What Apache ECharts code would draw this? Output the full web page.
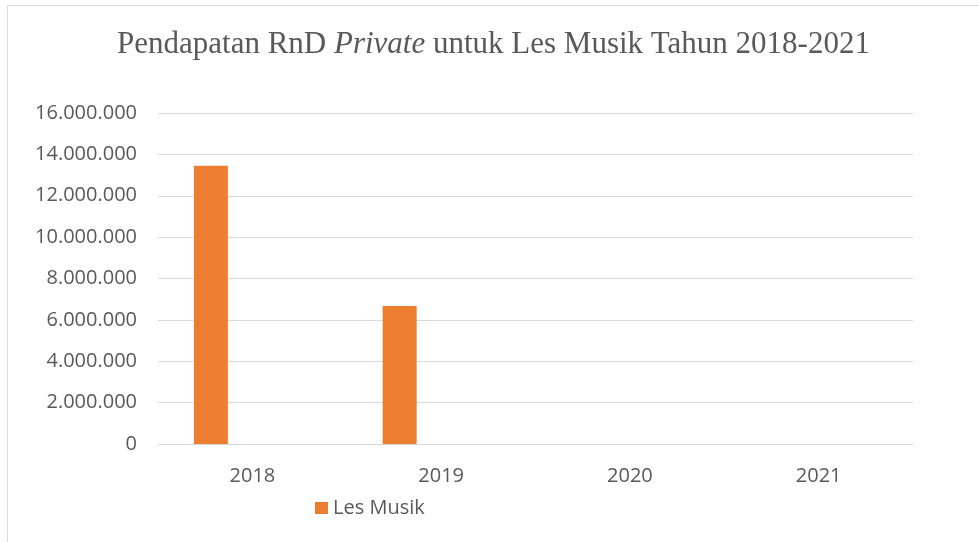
<!DOCTYPE html>
<html>
<head>
<meta charset="utf-8">
<script src="https://cdn.jsdelivr.net/npm/echarts@6/dist/echarts.min.js"></script>
<style>
html,body{margin:0;padding:0;background:#fff;}
#chart{width:979px;height:542px;}
</style>
</head>
<body>
<div id="chart"></div>
<script>
// Data
var categories = ['2018', '2019', '2020', '2021'];
var lesMusik = [13450000, 6675000, 0, 0];
// Empty placeholder series (present in the source workbook but without values)
var emptySeriesA = [null, null, null, null];
var emptySeriesB = [null, null, null, null];
var yTicks = [0, 2000000, 4000000, 6000000, 8000000, 10000000, 12000000, 14000000, 16000000];

function fmt(v) {
  return String(v).replace(/\B(?=(\d{3})+(?!\d))/g, '.');
}

var chart = echarts.init(document.getElementById('chart'));
var sans = '"Open Sans", "Liberation Sans", sans-serif';
var serif = '"Liberation Serif", "Times New Roman", serif';
chart.setOption({
  animation: false,
  backgroundColor: '#ffffff',
  graphic: [{
    type: 'rect',
    shape: { x: 7.5, y: 5.5, width: 1000, height: 600 },
    style: { fill: 'none', stroke: '#d9d9d9', lineWidth: 1 },
    silent: true
  }],
  title: {
    left: 112,
    top: 24,
    text: '{n|Pendapatan RnD }{i|Private}{n| untuk Les Musik Tahun 2018-2021}',
    textStyle: {
      fontWeight: 'normal',
      rich: {
        n: { fontFamily: serif, fontSize: 31, fontWeight: 'normal', color: '#595959' },
        i: { fontFamily: serif, fontSize: 31, fontWeight: 'normal', fontStyle: 'italic', color: '#595959' }
      }
    }
  },
  legend: {
    data: ['Les Musik'],
    left: 310,
    top: 493,
    icon: 'rect',
    itemWidth: 13,
    itemHeight: 12,
    itemGap: 5,
    textStyle: { fontFamily: sans, fontSize: 20, color: '#595959' }
  },
  grid: { left: 158, right: 66, top: 113, bottom: 98, containLabel: false },
  xAxis: {
    type: 'category',
    data: categories,
    axisLine: { show: true, lineStyle: { color: '#d9d9d9', width: 1 } },
    axisTick: { show: false },
    axisLabel: { margin: 22, fontFamily: sans, fontSize: 20, color: '#595959' }
  },
  yAxis: {
    type: 'value',
    min: yTicks[0],
    max: yTicks[yTicks.length - 1],
    interval: 2000000,
    axisLine: { show: false },
    axisTick: { show: false },
    splitLine: { lineStyle: { color: '#d9d9d9', width: 1 } },
    axisLabel: { margin: 21, fontFamily: sans, fontSize: 20, color: '#595959', formatter: fmt }
  },
  series: [
    { name: 'Les Musik', type: 'bar', data: lesMusik, barWidth: 34, barGap: '22%', itemStyle: { color: '#ed7d31' } },
    { name: 'Seri 2', type: 'bar', data: emptySeriesA, barWidth: 34, barGap: '22%', itemStyle: { color: '#a5a5a5' } },
    { name: 'Seri 3', type: 'bar', data: emptySeriesB, barWidth: 34, barGap: '22%', itemStyle: { color: '#ffc000' } }
  ]
});
</script>
</body>
</html>
